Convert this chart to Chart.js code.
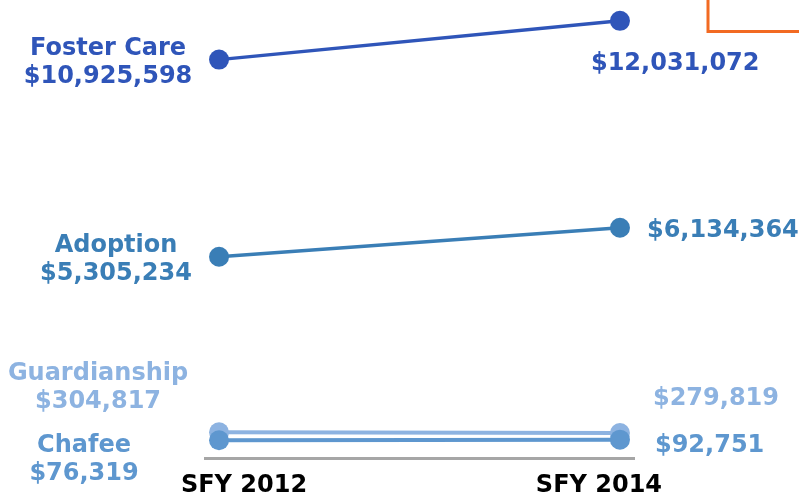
<!DOCTYPE html>
<html>
<head>
<meta charset="utf-8">
<script src="https://cdn.jsdelivr.net/npm/chart.js@4.4.1/dist/chart.umd.min.js"></script>
<style>
  html, body { margin: 0; padding: 0; background: #ffffff; }
  #wrap { width: 799px; height: 493px; position: relative; }
</style>
</head>
<body>
<div id="wrap"><canvas id="myChart"></canvas></div>
<script>
// data
var years = [2012, 2014];
var yearLabels = ['SFY 2012', 'SFY 2014'];
var programs = ['Foster Care', 'Adoption', 'Guardianship', 'Chafee'];
var fosterCare = [10925598, 12031072];
var adoption = [5305234, 6134364];
var guardianship = [304817, 279819];
var chafee = [76319, 92751];

var seriesValues = [fosterCare, adoption, guardianship, chafee];
var colors = ['#2F55B9', '#3A7EB6', '#8DB3E1', '#5E97CF'];
var lineWidths = [3.5, 3.5, 4, 4];

// label placement, pixel offsets from the point (left label is centered, right label left aligned)
var leftLabelOffset = [[-111, -11], [-103, -11], [-121, -58], [-135, 6]];
var rightLabelOffset = [[-29, 43], [27, 3], [33, -34], [35, 6]];
var xLabelOffset = [25, -21];

function money(v) {
  return '$' + v.toLocaleString('en-US');
}

var datasets = seriesValues.map(function (vals, i) {
  return {
    label: programs[i],
    data: years.map(function (y, j) { return { x: y, y: vals[j] }; }),
    borderColor: colors[i],
    backgroundColor: colors[i],
    borderWidth: lineWidths[i],
    pointRadius: 10,
    pointBorderWidth: 0,
    pointBackgroundColor: colors[i],
    order: i === 3 ? -1 : i
  };
});

var labelPlugin = {
  id: 'slopeLabels',
  afterDatasetsDraw: function (chart) {
    var ctx = chart.ctx;
    var xs = chart.scales.x;
    var ys = chart.scales.y;
    ctx.save();
    ctx.font = 'bold 24px "DejaVu Sans"';
    ctx.textBaseline = 'middle';
    seriesValues.forEach(function (vals, i) {
      var x0 = xs.getPixelForValue(years[0]);
      var y0 = ys.getPixelForValue(vals[0]);
      var x1 = xs.getPixelForValue(years[1]);
      var y1 = ys.getPixelForValue(vals[1]);
      ctx.fillStyle = colors[i];
      ctx.textAlign = 'center';
      ctx.fillText(programs[i], x0 + leftLabelOffset[i][0], y0 + leftLabelOffset[i][1]);
      ctx.fillText(money(vals[0]), x0 + leftLabelOffset[i][0], y0 + leftLabelOffset[i][1] + 28);
      ctx.textAlign = 'left';
      ctx.fillText(money(vals[1]), x1 + rightLabelOffset[i][0], y1 + rightLabelOffset[i][1]);
    });
    // year labels under the axis
    ctx.fillStyle = '#000000';
    ctx.textAlign = 'center';
    ctx.textBaseline = 'alphabetic';
    years.forEach(function (y, j) {
      ctx.fillText(yearLabels[j], xs.getPixelForValue(y) + xLabelOffset[j], chart.chartArea.bottom + 34);
    });
    // orange frame corner from neighbouring panel
    ctx.strokeStyle = '#F26A22';
    ctx.lineWidth = 3;
    ctx.beginPath();
    ctx.moveTo(708, 0);
    ctx.lineTo(708, 31.5);
    ctx.lineTo(800, 31.5);
    ctx.stroke();
    ctx.restore();
  }
};

new Chart(document.getElementById('myChart'), {
  type: 'line',
  data: { datasets: datasets },
  options: {
    animation: false,
    responsive: true,
    maintainAspectRatio: false,
    layout: { autoPadding: false, padding: { left: 205, right: 165, top: 0, bottom: 35 } },
    scales: {
      x: {
        type: 'linear',
        min: 2011.93,
        max: 2014.07,
        grid: { display: false, drawTicks: false },
        ticks: { display: false },
        border: { display: true, color: '#A6A6A6', width: 3 }
      },
      y: {
        display: false,
        min: -430000,
        max: 12625000
      }
    },
    plugins: {
      legend: { display: false },
      tooltip: { enabled: false }
    }
  },
  plugins: [labelPlugin]
});
</script>
</body>
</html>
